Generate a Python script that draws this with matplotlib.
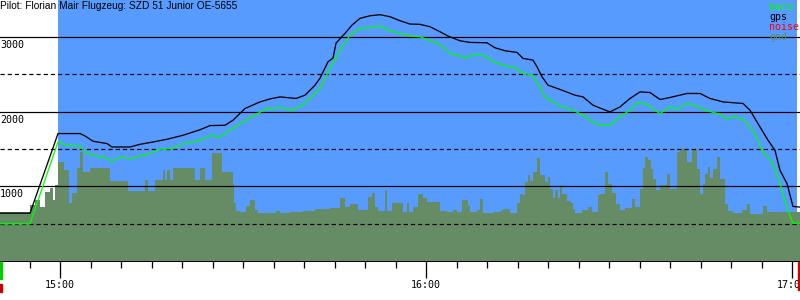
import matplotlib
matplotlib.use("Agg")
import matplotlib.pyplot as plt
import matplotlib.transforms as mtransforms
from matplotlib.patches import Rectangle

# time in minutes relative to 15:00, altitude in metres
gps_t = [-9.84, -4.92, -0.33, 3.28, 4.10, 5.41, 7.70, 8.52, 11.48, 13.11, 15.25, 17.54,
         20.16, 22.95, 24.59, 27.05, 28.36, 30.33, 32.79, 34.43, 36.07, 37.70, 38.69,
         40.16, 41.80, 42.62, 43.93, 44.75, 45.25, 46.72, 47.87, 49.18, 50.82, 52.46,
         54.10, 55.74, 57.38, 59.02, 60.66, 62.30, 63.61, 65.57, 67.21, 70.00, 71.31,
         72.95, 74.92, 75.90, 77.54, 78.20, 79.02, 80.00, 81.97, 84.43, 85.74, 87.38,
         88.52, 90.16, 91.80, 93.44, 95.08, 96.72, 98.36, 100.0, 102.79, 104.92, 106.56,
         108.69, 111.97, 113.11, 114.75, 116.07, 117.21, 118.03, 119.18, 120.16, 121.31]
gps_alt = [641, 641, 1707, 1707, 1675, 1604, 1573, 1527, 1527, 1563, 1594, 1631,
           1684, 1758, 1814, 1818, 1886, 2043, 2131, 2171, 2198, 2185, 2177,
           2221, 2355, 2449, 2668, 2718, 2919, 3049, 3160, 3250, 3285, 3299,
           3272, 3218, 3174, 3170, 3138, 3070, 3013, 2950, 2928, 2923, 2856,
           2816, 2794, 2714, 2691, 2601, 2467, 2355, 2298, 2221, 2198, 2087,
           2049, 1997, 2064, 2177, 2265, 2257, 2163, 2190, 2244, 2244, 2177,
           2131, 2110, 2020, 1796, 1617, 1483, 1215, 1036, 731, 722]

baro_t = [-9.84, -4.92, -0.33, 0.82, 3.28, 4.10, 5.41, 7.38, 8.52, 9.84, 11.48, 14.75,
          16.39, 18.36, 19.67, 22.95, 24.92, 25.90, 27.05, 29.51, 31.97, 33.61, 36.07,
          36.89, 37.70, 39.34, 40.98, 42.62, 44.26, 45.90, 47.54, 49.18, 50.82, 52.46,
          53.77, 55.74, 57.38, 59.02, 60.66, 62.30, 63.93, 65.57, 66.72, 67.70, 69.67,
          71.31, 72.95, 74.59, 75.74, 77.38, 78.20, 79.51, 81.97, 84.10, 85.74, 87.38,
          88.52, 90.16, 91.80, 93.44, 94.59, 96.23, 97.54, 98.36, 100.0, 101.15, 102.79,
          104.10, 105.74, 108.20, 109.34, 110.33, 112.30, 113.93, 115.08, 116.89, 118.03,
          119.34, 120.16, 121.31]
baro_alt = [499, 499, 1594, 1559, 1537, 1460, 1416, 1385, 1339, 1393, 1372, 1439,
            1496, 1506, 1559, 1617, 1684, 1653, 1707, 1841, 1953, 2033, 2056,
            2043, 2020, 2064, 2177, 2311, 2579, 2825, 3026, 3116, 3124, 3151,
            3093, 3049, 3013, 3004, 2950, 2901, 2781, 2748, 2714, 2771, 2748,
            2660, 2614, 2593, 2520, 2489, 2399, 2198, 2077, 2020, 1953, 1863,
            1818, 1818, 1930, 2020, 2118, 2100, 2020, 1975, 2064, 2029, 2110,
            2087, 2020, 1966, 1899, 1939, 1886, 1707, 1483, 1304, 1036,
            678, 507, 507]

gnd_t = [-9.84, -4.92, -4.10, -3.28, -2.46, -1.64, -1.15, -0.82, -0.33, 0.66, 1.48, 1.97,
         2.79, 3.28, 3.77, 4.92, 8.20, 11.15, 13.93, 14.43, 15.57, 16.89, 17.21, 17.54,
         18.03, 18.52, 22.13, 22.95, 23.77, 24.92, 26.56, 28.36, 28.52, 28.85, 29.51,
         30.49, 31.15, 31.97, 32.46, 35.41, 36.07, 37.70, 39.84, 41.80, 44.26, 45.90,
         46.72, 47.54, 48.85, 50.49, 51.15, 51.64, 52.13, 53.28, 53.61, 54.43, 56.23,
         56.89, 57.21, 57.87, 58.69, 59.51, 60.16, 62.30, 63.44, 64.43, 65.08, 65.90,
         66.89, 67.21, 68.36, 68.85, 69.34, 70.98, 72.13, 72.62, 73.77, 74.92, 75.41,
         75.90, 76.23, 76.72, 77.05, 77.54, 78.20, 78.69, 79.51, 80.00, 80.33, 80.82,
         81.15, 81.64, 81.97, 82.30, 83.11, 83.77, 84.10, 84.43, 85.57, 86.56, 87.21,
         88.20, 88.52, 89.34, 89.84, 90.49, 91.15, 91.80, 92.62, 93.77, 94.26, 95.08,
         95.57, 95.90, 96.39, 96.89, 97.21, 97.70, 98.36, 99.51, 100.00, 101.15, 101.64,
         102.79, 103.61, 104.43, 104.92, 105.41, 105.74, 106.23, 106.56, 107.05, 107.70,
         108.20, 109.02, 109.51, 110.33, 111.80, 112.62, 113.11, 115.25, 115.90, 121.31]
gnd_alt = [651, 745, 812, 718, 919, 973, 812, 1013, 1322, 1215, 772, 906,
           1241, 1456, 1188, 1241, 1067, 933, 1080, 933, 1080, 1215, 1080, 1215,
           1080, 1241, 1080, 1241, 1080, 1443, 1188, 1027, 772, 664, 651,
           731, 812, 678, 637, 664, 637, 651, 664, 691, 705, 839,
           718, 758, 678, 852, 906, 718, 664, 946, 664, 772, 651,
           772, 651, 718, 892, 839, 785, 664, 651, 678, 651, 812,
           731, 651, 678, 825, 637, 651, 664, 691, 637, 772, 892,
           879, 1053, 1147, 1067, 1188, 1376, 1147, 1053, 1121, 960, 839,
           946, 839, 1013, 892, 798, 772, 691, 637, 678, 718, 651,
           879, 902, 1192, 1027, 915, 758, 687, 709, 835, 722, 969,
           1245, 1393, 1349, 1237, 1103, 946, 1013, 1161, 960, 1460, 1506,
           1326, 1506, 1237, 902, 1027, 1170, 1259, 1117, 1237, 1393,
           1103, 768, 664, 641, 678, 758, 633, 731, 655, 655]

flight_start, flight_end = -0.33, 120.82
solid_levels = [1000, 2000, 3000]
dashed_levels = [500, 1500, 2500]
hour_ticks = [0, 60, 120]
hour_labels = ["15:00", "16:00", "17:00"]
minor_ticks = [m for m in range(-5, 121, 5) if m % 60 != 0]
title = "Pilot: Florian Mair Flugzeug: SZD 51 Junior OE-5655"
legend_names = ["baro", "gps", "noise", "gnd"]

BLUE = "#579bff"
GND = "#658c65"
BARO = "#00ff00"
legend_colors = [BARO, "black", "red", GND]
MONO = "DejaVu Sans Mono"
PX = 0.72  # one pixel in points at 100 dpi

fig = plt.figure(figsize=(8, 3), dpi=100)
ax = fig.add_axes([0, 39 / 300, 1, 261 / 300])
ax.set_facecolor("white")
ax.set_xlim(-9.84, 121.31)
ax.set_ylim(0, 3496)

ax.axvspan(flight_start, flight_end, color=BLUE, lw=0, zorder=0)
ax.fill_between(gnd_t, gnd_alt, step="post", color=GND, lw=0, zorder=1)

for lvl in solid_levels:
    ax.axhline(lvl, color="black", lw=PX * 1.2, zorder=2)
    ax.text(-9.84, lvl - 40, str(lvl), ha="left", va="top",
            family=MONO, fontsize=7.2, zorder=5)
for lvl in dashed_levels:
    ax.axhline(lvl, color="black", lw=PX * 1.2, linestyle=(0, (3.5, 2.5)), zorder=2)

ax.plot(baro_t, baro_alt, color=BARO, lw=PX * 1.3, zorder=3)
ax.plot(gps_t, gps_alt, color="black", lw=PX * 1.3, zorder=4)

ax.text(0.0, 0.998, title, transform=ax.transAxes, ha="left", va="top",
        family="Liberation Sans", fontsize=7.3, zorder=6)
for i, (name, col) in enumerate(zip(legend_names, legend_colors)):
    ax.text(769 / 800, 1 - (7 + 10 * i) / 261, name, transform=ax.transAxes,
            ha="left", va="center", family=MONO, fontsize=7.2, color=col, zorder=6)

ax.set_yticks([])
ax.set_xticks(hour_ticks)
ax.set_xticklabels(hour_labels, family=MONO, fontsize=7.2)
ax.set_xticks(minor_ticks, minor=True)
ax.tick_params(axis="x", which="major", length=17 * PX, width=PX * 1.3, pad=1.5)
ax.tick_params(axis="x", which="minor", length=7 * PX, width=PX * 1.3)
for side in ["top", "left", "right"]:
    ax.spines[side].set_visible(False)
ax.spines["bottom"].set_linewidth(PX)

# start / end markers under the axis
below = mtransforms.blended_transform_factory(ax.transAxes, fig.transFigure)
fig.patches.append(Rectangle((0, 21 / 300), 2 / 800, 17 / 300, color="#00cc00",
                             transform=fig.transFigure, figure=fig))
fig.patches.append(Rectangle((0, 8 / 300), 1.5 / 800, 8 / 300, color="#cc0000",
                             transform=fig.transFigure, figure=fig))
fig.patches.append(Rectangle((797.5 / 800, 10 / 300), 2.5 / 800, 28 / 300, color="#cc0000",
                             transform=fig.transFigure, figure=fig))

fig.savefig("out.png", dpi=100)
